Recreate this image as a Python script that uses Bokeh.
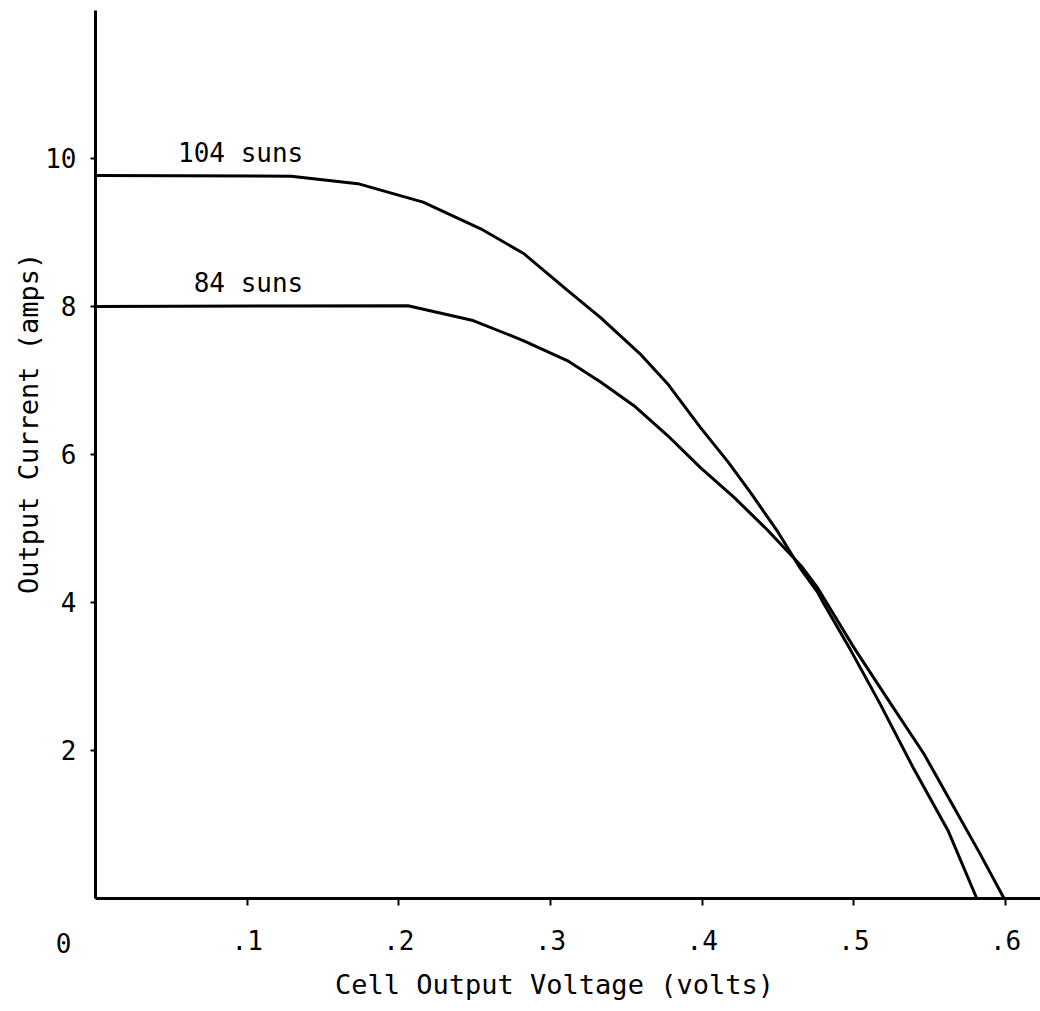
import math
from bokeh.plotting import figure
from bokeh.models import FixedTicker, Label, Range1d
from bokeh.embed import file_html
from bokeh.resources import INLINE

# Voltage (volts) / current (amps)
v_104 = [0.0, 0.129, 0.173, 0.216, 0.254, 0.282, 0.311, 0.333, 0.359,
         0.377, 0.399, 0.417, 0.432, 0.450, 0.465, 0.476, 0.480, 0.498, 0.517,
         0.539, 0.562, 0.581]
i_104 = [9.77, 9.76, 9.66, 9.41, 9.05, 8.72, 8.22, 7.85, 7.36,
         6.96, 6.36, 5.90, 5.48, 4.95, 4.45, 4.14, 3.99, 3.35, 2.64,
         1.77, 0.92, 0.0]

v_84 = [0.0, 0.206, 0.249, 0.282, 0.311, 0.333, 0.355, 0.377, 0.399, 0.421,
        0.443, 0.465, 0.476, 0.500, 0.524, 0.546, 0.566, 0.583, 0.599]
i_84 = [8.0, 8.01, 7.81, 7.54, 7.27, 6.98, 6.66, 6.26, 5.82, 5.42,
        4.98, 4.50, 4.20, 3.39, 2.64, 1.96, 1.23, 0.61, 0.0]

x_ticks = [0.1, 0.2, 0.3, 0.4, 0.5, 0.6]
x_tick_labels = [".1", ".2", ".3", ".4", ".5", ".6"]
y_ticks = [2, 4, 6, 8, 10]
y_tick_labels = ["2", "4", "6", "8", "10"]

series_names = ["104 suns", "84 suns"]
x_title = "Cell Output Voltage (volts)"
y_title = "Output Current (amps)"

FONT = "DejaVu Sans Mono"
FS = "26px"

X_MAX = 0.623
Y_MAX = 12.0

p = figure(width=1040, height=1011, output_backend="svg", toolbar_location=None,
           x_range=Range1d(-0.0626, X_MAX), y_range=Range1d(-1.527, 12.135),
           min_border_left=0, min_border_right=0, min_border_top=0,
           min_border_bottom=0)
p.outline_line_color = None
p.grid.visible = False
p.background_fill_color = "white"
p.border_fill_color = "white"

p.line(v_104, i_104, line_color="black", line_width=3)
p.line(v_84, i_84, line_color="black", line_width=3)

xa = p.xaxis[0]
ya = p.yaxis[0]
for ax in (xa, ya):
    ax.fixed_location = 0
    ax.axis_line_color = "black"
    ax.axis_line_width = 3
    ax.major_tick_line_color = "black"
    ax.major_tick_line_width = 2
    ax.major_tick_in = 0
    ax.minor_tick_line_color = None
    ax.major_label_text_font = FONT
    ax.major_label_text_font_size = FS
    ax.major_label_text_color = "black"

xa.bounds = (0, X_MAX)
xa.ticker = FixedTicker(ticks=x_ticks)
xa.major_label_overrides = {t: l for t, l in zip(x_ticks, x_tick_labels)}
xa.major_tick_out = 7
xa.major_label_standoff = 24

ya.bounds = (0, Y_MAX)
ya.ticker = FixedTicker(ticks=y_ticks)
ya.major_label_overrides = {t: l for t, l in zip(y_ticks, y_tick_labels)}
ya.major_tick_out = 5
ya.major_label_standoff = 14

# curve labels
p.add_layout(Label(x=0.137, y=i_104[0], y_offset=8, text=series_names[0],
                   text_align="right", text_baseline="bottom",
                   text_font=FONT, text_font_size=FS, text_color="black"))
p.add_layout(Label(x=0.137, y=i_84[0], y_offset=8, text=series_names[1],
                   text_align="right", text_baseline="bottom",
                   text_font=FONT, text_font_size=FS, text_color="black"))

# origin label
p.add_layout(Label(x=0, y=0, x_offset=-32, y_offset=-44, text="0",
                   text_align="center", text_baseline="middle",
                   text_font=FONT, text_font_size=FS, text_color="black"))

# axis titles
p.add_layout(Label(x=0.3026, y=0, y_offset=-86, text=x_title,
                   text_align="center", text_baseline="middle",
                   text_font=FONT, text_font_size="27px", text_color="black"))
p.add_layout(Label(x=0, y=6.42, x_offset=-67, text=y_title,
                   angle=math.pi / 2, text_align="center", text_baseline="middle",
                   text_font=FONT, text_font_size="27px", text_color="black"))

open("out.html", "w").write(file_html(p, INLINE))
